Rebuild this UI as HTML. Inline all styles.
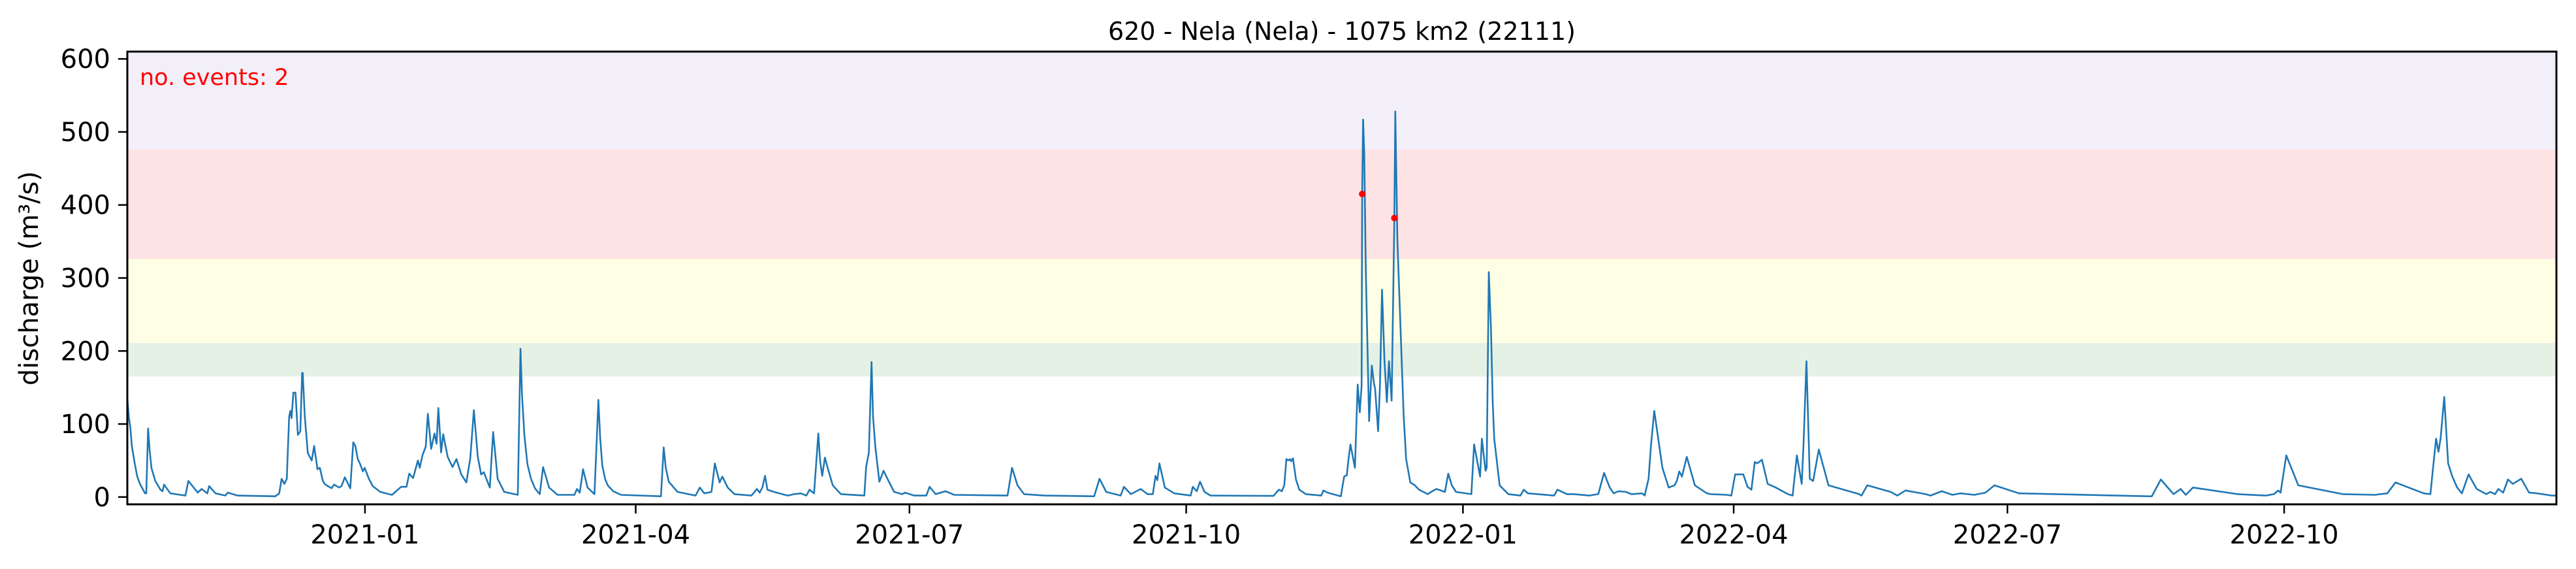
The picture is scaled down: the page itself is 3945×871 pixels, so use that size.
<!DOCTYPE html>
<html><head><meta charset="utf-8"><style>
html,body{margin:0;padding:0;background:#fff}
svg{display:block;font-family:"DejaVu Sans","Liberation Sans",sans-serif}
</style></head><body>
<svg id="chart" width="3945" height="871" viewBox="0 0 3945 871" xmlns="http://www.w3.org/2000/svg">
<g id="bands"></g>
<g id="series"></g>
<g id="axes"></g>
<text x="2055" y="61" font-size="38" text-anchor="middle">620 - Nela (Nela) - 1075 km2 (22111)</text>
<text x="214" y="130" font-size="35" fill="#ff0000">no. events: 2</text>
<text transform="translate(58,426) rotate(-90)" font-size="40" text-anchor="middle">discharge (m³/s)</text>
</svg>
<script>
// days since 2020-10-14, discharge values
const days = [0,1,2.5,4.2,5.9,6.3,6.9,8,9.3,11,11.7,12.2,14.3,19.3,20.3,23.4,24.7,26.6,27.2,29.3,32.6,33.4,36.7,49.2,50.5,51.3,52.2,53,53.8,54.2,54.6,55.2,55.9,56.7,57.5,58.1,58.3,59,60,61.3,62.1,63.2,64,65,65.8,67.9,68.7,70.4,71.2,72.3,74.1,75.1,75.8,76.6,77.4,78.3,78.9,80.3,81.6,84.1,88,91,92.8,93.7,95,96.6,97.2,98.1,99.2,99.9,101,102.1,102.8,103.4,104.3,105,106.5,108.1,109.4,111,112.7,114,115.2,116.5,117.6,118.5,120.5,121.6,123.1,125.3,129.8,130.7,132,134.2,137.1,138.2,140.2,143,148.6,149.5,150.4,151.5,153,155.3,156.6,157.9,159.7,164.1,177.4,178.3,180,182.9,188.9,190.3,191.8,194.2,195.3,196.9,197.8,199.6,201.8,207.5,209.3,210.2,211.1,212,212.8,215,219.5,221.7,223.9,225.7,226.8,228.3,229.7,231,231.9,232.8,234.5,237.2,245,245.6,246.5,247.4,248.7,250,251.4,252.7,254.9,257.6,258.5,261.6,265.6,266.7,268.7,272,274.9,292.6,294.1,295.9,298.1,321.4,323.2,325.4,330.2,331.3,333.6,336.9,339.1,340.9,341.8,342.4,343.1,344.9,348,353.5,354.2,355.5,356.6,358.1,360.1,381,382.8,383.8,384.6,385.3,385.9,386.5,386.9,387.5,388.5,389.6,391.8,396.9,397.6,399,403.4,404.5,405.4,405.9,406.6,408.1,409,409.7,410.3,410.5,410.8,411.2,411.7,412.8,413.7,414.4,414.8,415.8,416.4,417.1,417.9,418.7,419.4,420.3,421.2,421.5,422.2,423.6,425.1,426.5,428,429.4,432.3,433.8,435.2,438,439.1,440.3,441.7,446.8,447.7,449.7,450.3,451.5,451.9,452.6,453.3,454.4,456.2,459.1,463.1,464.2,465.6,474.3,475.4,478.6,480.7,486,487.4,489,490.9,492.8,494.1,495.7,498.2,500,503.6,504.4,505.7,507.6,510.3,512.4,514.3,515.1,515.9,516.8,518.4,521.1,525.1,526.4,531.8,533.2,534.5,537.2,538.6,539.9,541,541.8,543.4,545.3,548,552,553.6,555,556.6,558.2,559.3,560.4,562.3,565.5,575.7,576.5,578.4,586.2,588.4,591.1,597.8,599.4,603.2,606.7,609.4,614,617.7,620.7,628.8,671.9,673,676,680.2,682.6,684.3,686.7,701.5,710.9,713.6,715,715.8,717.7,721.7,736.5,747.3,748.9,751.3,754,763.4,765.6,766.7,767.5,768.3,770.2,771.5,772.9,774.5,776.1,778.3,781,784.2,785.5,787.1,788.2,789.8,791.4,793,795.8,798.4,801.1,806,807.5];
const flows = [135,95,45,18,5,5,94,40,22,10,8,17,5,2,22,6,11,5,15,5,2,6,2,1,5,25,18,25,110,118,108,143,143,85,90,170,170,110,60,50,70,38,40,22,17,12,17,13,15,27,12,75,70,52,45,35,40,25,15,7,3,14,14,32,26,50,40,57,69,114,66,87,73,122,61,86,55,41,52,31,20,53,119,55,31,34,13,89,25,7,3,203,84,25,4,41,13,3,3,11,6,38,13,4,133,43,16,3,1,68,21,7,2,13,5,7,46,20,28,13,4,2,11,6,13,29,10,7,2,4,5,2,10,5,87,29,54,40,16,4,2,41,61,185,67,21,36,25,7,4,6,2,2,14,4,8,3,2,40,16,4,1,25,7,2,14,4,11,4,4,29,23,46,13,5,2,14,8,21,7,2,1.5,10,8,16,52,50,52,49,53,24,10,4,2,9,6,1,28,30,50,72,40,154,116,152,415,517,470,312,104,180,156,148,90,152,284,188,130,186,132,382,528,352,192,52,20,16,10,4,8,11,7,32,16,7,4,72,28,80,36,40,308,232,80,16,4,2,10,5,2,10,4,4,2,3,4,33,13,5,8,7,4,5,2,25,118,40,13,16,22,35,28,55,16,5,4,3,2,31,31,14,10,48,46,51,18,13,4,2,57,18,186,25,22,65,16,4,2,16,7,2,9,4,2,8,3,5,3,6,16,5,1,1,24,4,11,3,13,4,2,4,9,6,57,16,4,3,4,5,20,5,4,48,80,62,137,46,28,13,5,31,11,4,7,4,11,6,24,18,25,6,5,2,2,14];
// extra recession points
const extraDays = [0.5,1.5,3.3,7.4,131.2,133,135.5,157.2,158.8,161.5,247.9,424.3,453.9,506.5,557.2,769,179,230.3,305];
const extraFlows = [110,70,28,65,140,45,12,80,25,8,110,110,130,70,70,80,40,50,2];
const eventDays = [410.5, 421.2];
const eventFlows = [415, 382];
const yTicks = [0,100,200,300,400,500,600];
const xTickLabels = ["2021-01","2021-04","2021-07","2021-10","2022-01","2022-04","2022-07","2022-10"];
const bandLower = [165,211,326,476];
const bandUpper = [211,326,476,610];
const bandColors = ["#e6f1e6","#fefee4","#fee3e4","#f2eff9"];

const NS="http://www.w3.org/2000/svg";
const L=195,R=3915,T=79,B=772;
const dayMax=807.5, yMin=-10, yMax=610;
const x=d=>L+(d/dayMax)*(R-L);
const y=v=>B-(v-yMin)/(yMax-yMin)*(B-T);
const start=Date.UTC(2020,9,14);
const dateToDay=s=>{const p=s.split('-');return (Date.UTC(+p[0],+p[1]-1,1)-start)/86400000;};
function mk(tag,attrs,parent){const e=document.createElementNS(NS,tag);for(const k in attrs)e.setAttribute(k,attrs[k]);parent.appendChild(e);return e;}

const bands=document.getElementById('bands');
for(let i=0;i<bandLower.length;i++){
  const r=mk('rect',{x:L,y:y(bandUpper[i]),width:R-L,height:y(bandLower[i])-y(bandUpper[i]),fill:bandColors[i]},bands);
  
  
}
const ser=document.getElementById('series');
const pts=[];
const n=Math.min(days.length,flows.length);
for(let i=0;i<n;i++)pts.push([days[i],flows[i]]);
for(let i=0;i<Math.min(extraDays.length,extraFlows.length);i++)pts.push([extraDays[i],extraFlows[i]]);
pts.sort((a,b)=>a[0]-b[0]);
let dstr='';
pts.forEach((p,k)=>{dstr+=(k?'L':'M')+x(p[0]).toFixed(1)+','+y(p[1]).toFixed(1);});
const line=mk('path',{d:dstr,fill:'none',stroke:'#1f77b4','stroke-width':2.6,'stroke-linejoin':'round'},ser);


for(let i=0;i<eventDays.length;i++){
  const c=mk('circle',{cx:x(eventDays[i]),cy:y(eventFlows[i]),r:5,fill:'#ff0000'},ser);
  
  
}
const ax=document.getElementById('axes');
const frame=mk('rect',{x:L,y:T,width:R-L,height:B-T,fill:'none',stroke:'#000','stroke-width':3},ax);


yTicks.forEach(v=>{
  const t=mk('line',{x1:L-14,x2:L,y1:y(v),y2:y(v),stroke:'#000','stroke-width':2.5},ax);
  
  
  const tx=mk('text',{x:L-26,y:y(v)+14,'font-size':40,'text-anchor':'end'},ax);
  tx.textContent=v;
  
  
});
xTickLabels.forEach(s=>{
  const xx=x(dateToDay(s));
  const t=mk('line',{x1:xx,x2:xx,y1:B,y2:B+14,stroke:'#000','stroke-width':2.5},ax);
  
  
  const tx=mk('text',{x:xx,y:832,'font-size':40,'text-anchor':'middle'},ax);
  tx.textContent=s;
  
  
});
</script>
</body></html>
